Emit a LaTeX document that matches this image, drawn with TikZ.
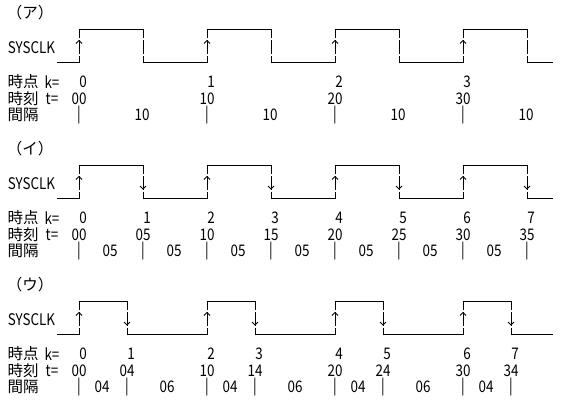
\documentclass[tikz,border=0pt]{standalone}
\usepackage{fontspec}
\setmainfont{Noto Sans CJK JP}
\newfontfamily\narrowfont[FakeStretch=0.84]{Noto Sans CJK JP}
\begin{document}
\begin{tikzpicture}[x=1pt,y=-1pt,
  hwave/.style={line width=1pt, line cap=rect},
  vwave/.style={line width=1pt},
  tipline/.style={line width=0.8pt},
  txt/.style={inner sep=0pt, font=\fontsize{15.5}{15.5}\selectfont},
  num/.style={inner sep=0pt, font=\fontsize{16}{16}\selectfont\narrowfont}]
\useasboundingbox (0,0) rectangle (562,407);
% ---- waveforms and left labels ----
\foreach \b/\f/\lab/\n in {0/64/ア/1, 136/64/イ/2, 272/48/ウ/3} {
  \node[txt] (lab\n) at (30,\b+13) {（\lab）};
  \node[num] (clk\n) at (31.5,\b+48) {SYSCLK};
  \node[txt] (kh\n) at (23,\b+82) {時点};
  \node[num] (kk\n) at (52,\b+82) {k=};
  \node[txt] (th\n) at (23,\b+99) {時刻};
  \node[num] (tt\n) at (52,\b+99) {t=};
  \node[txt] (gh\n) at (23,\b+115) {間隔};
  \draw[hwave] (57,\b+62) -- (79,\b+62);
  \foreach \i in {0,1,2,3} {
    \pgfmathsetmacro\r{79+128*\i}
    \pgfmathsetmacro\fl{\r+\f}
    \pgfmathsetmacro\nx{\i<3 ? \r+128 : 552}
    \draw[hwave] (\r,\b+29) -- (\fl,\b+29);
    \draw[hwave] (\fl,\b+62) -- (\nx,\b+62);
    \foreach \x in {\r,\fl} {
      \draw[vwave] (\x,\b+29) -- (\x,\b+37.5) (\x,\b+40) -- (\x,\b+53.5) (\x,\b+56) -- (\x,\b+62);
    }
    \draw[tipline] (\r-3,\b+43.5) -- (\r,\b+40.5) -- (\r+3,\b+43.5);
    \ifnum\n>1
      \draw[tipline] (\fl-3,\b+50) -- (\fl,\b+53) -- (\fl+3,\b+50);
    \fi
  }
}
% ---- section (ア) ----
\foreach \x/\k/\t [count=\j] in {79/0/00, 207/1/10, 335/2/20, 463/3/30} {
  \node[num] (k1-\j) at (\x+4,82) {\k};
  \node[num] (t1-\j) at (\x,99) {\t};
  \node[num] (g1-\j) at (\x,115) {|};
  \node[num] (d1-\j) at (\x+63,115) {10};
}
% ---- section (イ) ----
\foreach \x/\k/\t [count=\j] in {79/0/00, 143/1/05, 207/2/10, 271/3/15, 335/4/20, 399/5/25, 463/6/30, 527/7/35} {
  \node[num] (k2-\j) at (\x+4,218) {\k};
  \node[num] (t2-\j) at (\x,235) {\t};
  \node[num] (g2-\j) at (\x,251) {|};
}
\foreach \x [count=\j] in {110,174,238,302,366,430,494} {
  \node[num] (d2-\j) at (\x,251) {05};
}
% ---- section (ウ) ----
\foreach \x/\k/\t [count=\j] in {79/0/00, 127/1/04, 207/2/10, 255/3/14, 335/4/20, 383/5/24, 463/6/30, 511/7/34} {
  \node[num] (k3-\j) at (\x+4,354) {\k};
  \node[num] (t3-\j) at (\x,371) {\t};
  \node[num] (g3-\j) at (\x,387) {|};
}
\foreach \x/\d [count=\j] in {102/04, 167/06, 230/04, 295/06, 358/04, 423/06, 486/04} {
  \node[num] (d3-\j) at (\x,387) {\d};
}
\end{tikzpicture}
\end{document}
